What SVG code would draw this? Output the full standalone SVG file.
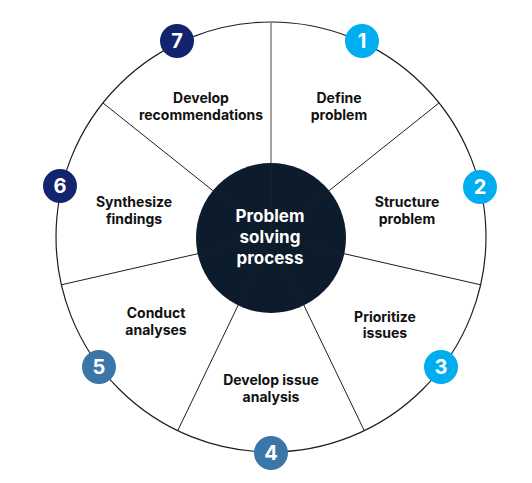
<svg xmlns="http://www.w3.org/2000/svg" width="532" height="483" viewBox="0 0 532 483">
  <style>
    .lbl { font-family: Inter, "Liberation Sans", Arial, sans-serif; font-weight: 700; font-size: 14px; fill: #111111; text-anchor: middle; }
    .ctr { font-family: Inter, "Liberation Sans", Arial, sans-serif; font-weight: 700; font-size: 17px; fill: #ffffff; text-anchor: middle; }
    .num { font-family: Inter, "Liberation Sans", Arial, sans-serif; font-weight: 700; font-size: 20px; fill: #ffffff; text-anchor: middle; }
    .spoke { stroke: #1e1e1e; stroke-width: 1; fill: none; }
    .ring { stroke: #1e1e1e; stroke-width: 1.2; fill: #ffffff; }
    .c1 { fill: #00AEEF; }
    .c2 { fill: #3A76A8; }
    .c3 { fill: #12246E; }
  </style>
  <rect width="532" height="483" fill="#ffffff"/>
  <circle class="ring" cx="271" cy="237" r="215"/>
  <g id="center">
    <circle cx="271" cy="238" r="75" fill="#0D1C2C"/>
  </g>
  <g id="connectors">
    <line class="spoke" x1="271" y1="163" x2="271" y2="22" style="stroke:#8a8a8a;stroke-width:1.6"/>
    <line class="spoke" x1="271" y1="237" x2="271" y2="163"/>
    <line class="spoke" x1="271" y1="237" x2="439.1" y2="102.9"/>
    <line class="spoke" x1="271" y1="237" x2="480.6" y2="284.8"/>
    <line class="spoke" x1="271" y1="237" x2="364.3" y2="430.7"/>
    <line class="spoke" x1="271" y1="237" x2="177.7" y2="430.7"/>
    <line class="spoke" x1="271" y1="237" x2="61.4" y2="284.8"/>
    <line class="spoke" x1="271" y1="237" x2="102.9" y2="102.9"/>
  </g>
  <g id="center-label">
    <text class="ctr" x="270" y="222">Problem</text>
    <text class="ctr" x="270" y="243">solving</text>
    <text class="ctr" x="270" y="264">process</text>
  </g>
  <g id="step1">
    <text class="lbl" x="339" y="103">Define</text>
    <text class="lbl" x="339" y="119.5">problem</text>
    <circle class="c1" cx="362" cy="41" r="17"/>
    <text class="num" x="362" y="48">1</text>
  </g>
  <g id="step2">
    <text class="lbl" x="407" y="207">Structure</text>
    <text class="lbl" x="407" y="223.5">problem</text>
    <circle class="c1" cx="480" cy="187" r="17"/>
    <text class="num" x="480" y="194">2</text>
  </g>
  <g id="step3">
    <text class="lbl" x="385" y="321.5">Prioritize</text>
    <text class="lbl" x="385" y="338">issues</text>
    <circle class="c1" cx="441" cy="367" r="17"/>
    <text class="num" x="441" y="374">3</text>
  </g>
  <g id="step4">
    <text class="lbl" x="271" y="385">Develop issue</text>
    <text class="lbl" x="271" y="401.5">analysis</text>
    <circle class="c2" cx="271" cy="453" r="17"/>
    <text class="num" x="271" y="460">4</text>
  </g>
  <g id="step5">
    <text class="lbl" x="156" y="318">Conduct</text>
    <text class="lbl" x="156" y="334.5">analyses</text>
    <circle class="c2" cx="99" cy="367" r="17"/>
    <text class="num" x="99" y="374">5</text>
  </g>
  <g id="step6">
    <text class="lbl" x="134" y="207">Synthesize</text>
    <text class="lbl" x="134" y="223.5">findings</text>
    <circle class="c3" cx="60" cy="186" r="17"/>
    <text class="num" x="60" y="193">6</text>
  </g>
  <g id="step7">
    <text class="lbl" x="201" y="103">Develop</text>
    <text class="lbl" x="201" y="119.5">recommendations</text>
    <circle class="c3" cx="177" cy="41" r="17"/>
    <text class="num" x="177" y="48">7</text>
  </g>
</svg>
